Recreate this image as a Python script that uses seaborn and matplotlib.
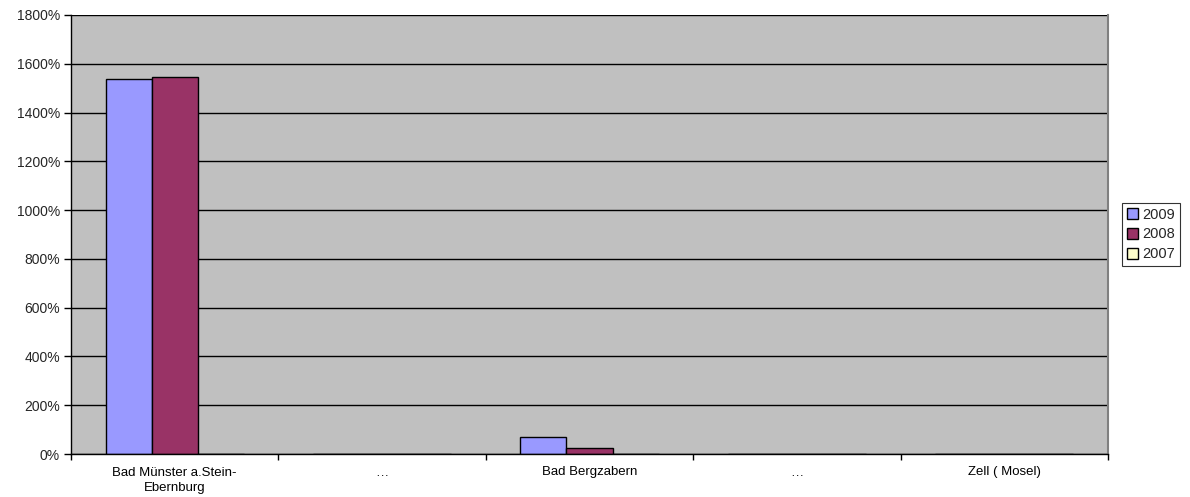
import numpy as np
import pandas as pd
import matplotlib
matplotlib.use("Agg")
import matplotlib.pyplot as plt
from matplotlib.ticker import FixedLocator, PercentFormatter
import seaborn as sns

sns.set_theme(style="white")
plt.rcParams["font.family"] = ["Liberation Sans", "DejaVu Sans"]

# data (percent values)
cities = ["Bad Münster a.Stein-\nEbernburg", "…", "Bad Bergzabern", "…", "Zell ( Mosel)"]
years = ["2009", "2008", "2007"]
v2009 = [1537, 0, 70, 0, 0]
v2008 = [1546, 0, 25, 0, 0]
v2007 = [0, 0, 0, 0, 0]

colors = ["#9999FF", "#993366", "#FFFFCC"]

rows = []
for i, c in enumerate(cities):
    # make the "…" labels unique so seaborn keeps 5 categories
    key = f"{i}|{c}"
    rows.append((key, "2009", v2009[i]))
    rows.append((key, "2008", v2008[i]))
    rows.append((key, "2007", v2007[i]))
df = pd.DataFrame(rows, columns=["city", "year", "value"])

fig = plt.figure(figsize=(11.9, 4.97), dpi=100)
ax = fig.add_axes([71 / 1190, 43 / 497, 1037 / 1190, 439 / 497])

sns.barplot(
    data=df, x="city", y="value", hue="year",
    hue_order=years, palette=colors, saturation=1,
    width=0.667, gap=0, edgecolor="black", linewidth=1,
    ax=ax, legend=True
)

ax.set_facecolor("#C0C0C0")
ax.set_xlim(-0.5, len(cities) - 0.5)
ax.set_ylim(0, 1800)
ax.set_yticks(np.arange(0, 1801, 200))
ax.yaxis.set_major_formatter(PercentFormatter(decimals=0))
ax.grid(axis="y", color="black", linewidth=1)
ax.set_axisbelow(True)

ax.set_xticks(range(len(cities)))
ax.set_xticklabels(cities, linespacing=1.4)
ax.xaxis.set_minor_locator(FixedLocator(np.arange(-0.5, len(cities), 1)))
ax.tick_params(axis="x", which="major", length=0, pad=9, labelsize=9.5, colors="black")
ax.tick_params(axis="x", which="minor", length=4, width=1, color="black", bottom=True)
ax.tick_params(axis="y", length=5, width=1, color="black", left=True, labelsize=10, pad=3)

ax.set_xlabel("")
ax.set_ylabel("")

for side in ["left", "bottom"]:
    ax.spines[side].set_color("black")
    ax.spines[side].set_linewidth(1)
ax.spines["right"].set_color("#808080")
ax.spines["right"].set_linewidth(1.5)
ax.spines["top"].set_visible(False)

leg = ax.legend(
    loc="center left", bbox_to_anchor=(1.0135, 0.5),
    fontsize=10.5, frameon=True, fancybox=False, edgecolor="black",
    handlelength=0.75, handleheight=0.75, handletextpad=0.3,
    borderpad=0.35, labelspacing=0.4, borderaxespad=0
)
leg.get_frame().set_linewidth(0.8)

fig.savefig("out.png", dpi=100, facecolor="white")
